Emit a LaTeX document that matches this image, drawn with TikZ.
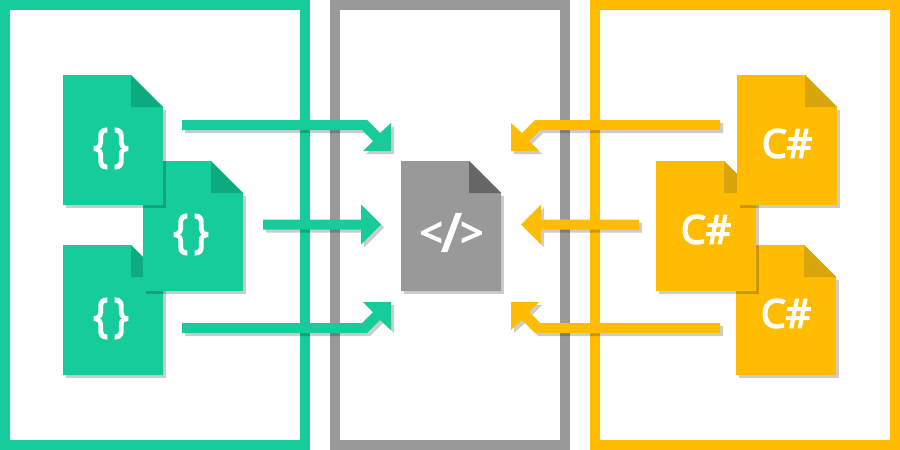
\documentclass[tikz,border=0pt]{standalone}
\usepackage{fontspec}
\setmainfont{Open Sans}[FakeBold=4]
\definecolor{greenC}{HTML}{16CC9B}
\definecolor{greenD}{HTML}{0FAB80}
\definecolor{grayC}{HTML}{999999}
\definecolor{grayD}{HTML}{666666}
\definecolor{yellowC}{HTML}{FFBC00}
\definecolor{yellowD}{HTML}{D8A50D}
\newcommand\bracetext{\fontsize{34.5pt}{34.5pt}\selectfont\scalebox{.85}[1]{\{}\hspace{4.5pt}\scalebox{.85}[1]{\}}}
\newcommand\codetext{\fontsize{30pt}{30pt}\selectfont\raisebox{3.2pt}{<}\hspace{-0.5pt}{\fontsize{39pt}{39pt}\selectfont/}\hspace{-0.5pt}\raisebox{3.2pt}{>}}
\newcommand\sharptext{\fontsize{29.5pt}{29.5pt}\selectfont C\#}
\tikzset{
  frame/.style={line width=7.5pt},
  dropshadow/.style={fill=black,fill opacity=0.2},
  filetext/.style={text=white,inner sep=0pt},
}
% name, left x, top y, body colour, fold colour, text, text dx, text dy
\newcommand\filedoc[8]{%
  \fill[dropshadow] (#2+3,#3+32+3) -- (#2+100+3,#3+32+3) -- (#2+100+3,#3+130+3) -- (#2+3,#3+130+3) -- cycle;
  \fill[#4] (#2,#3) -- (#2+68,#3) -- (#2+100,#3+32) -- (#2+100,#3+130) -- (#2,#3+130) -- cycle;
  \fill[#5] (#2+68,#3) -- (#2+100,#3+32) -- (#2+68,#3+32) -- cycle;
  \node[filetext] (#1) at (#2+50+#7,#3+65+#8) {#6};
}
\newcommand\diagshape{(-209,-31) -- (-24,-31) -- (-11,-18) -- (0,-28) -- (0,0) -- (-28,0) -- (-18,-10) -- (-29,-21) -- (-209,-21) -- cycle}
\newcommand\straightshape[1]{(-#1,-5) -- (-20,-5) -- (-20,-20) -- (0,0) -- (-20,20) -- (-20,5) -- (-#1,5) -- cycle}
% tip coordinate, colour, x scale, y scale
\newcommand\diagarrow[4]{%
  \begin{scope}[shift={(#1)},shift={(3,3)},xscale=#3,yscale=#4]\fill[dropshadow] \diagshape;\end{scope}
  \begin{scope}[shift={(#1)},xscale=#3,yscale=#4]\fill[#2] \diagshape;\end{scope}
}
\newcommand\straightarrow[4]{%
  \begin{scope}[shift={(#1)},shift={(3,3)},xscale=#3]\fill[dropshadow] \straightshape{#4};\end{scope}
  \begin{scope}[shift={(#1)},xscale=#3]\fill[#2] \straightshape{#4};\end{scope}
}
\begin{document}
\begin{tikzpicture}[x=0.75pt,y=-0.75pt]
\useasboundingbox (0,0) rectangle (900,450);
\draw[frame,greenC] (5,5) rectangle (305,445);
\draw[frame,grayC] (335,5) rectangle (565,445);
\draw[frame,yellowC] (595,5) rectangle (895,445);

\filedoc{fileLc}{63}{245}{greenC}{greenD}{\bracetext}{-2}{8.5}
\filedoc{fileLb}{143}{161}{greenC}{greenD}{\bracetext}{-2}{8.5}
\filedoc{fileLa}{63}{75}{greenC}{greenD}{\bracetext}{-2}{8.5}
\filedoc{fileM}{401}{161}{grayC}{grayD}{\codetext}{0.5}{6.5}
\filedoc{fileRc}{736}{245}{yellowC}{yellowD}{\sharptext}{0}{3.5}
\filedoc{fileRb}{656}{161}{yellowC}{yellowD}{\sharptext}{0}{3.5}
\filedoc{fileRa}{737}{75}{yellowC}{yellowD}{\sharptext}{0}{3.5}

\coordinate (tipLa) at (391,151);
\coordinate (tipLb) at (381,224.5);
\coordinate (tipLc) at (391,302);
\coordinate (tipRa) at (511,151);
\coordinate (tipRb) at (521,224.5);
\coordinate (tipRc) at (511,302);
\diagarrow{tipLa}{greenC}{1}{1}
\straightarrow{tipLb}{greenC}{1}{118}
\diagarrow{tipLc}{greenC}{1}{-1}
\diagarrow{tipRa}{yellowC}{-1}{1}
\straightarrow{tipRb}{yellowC}{-1}{118}
\diagarrow{tipRc}{yellowC}{-1}{-1}
\end{tikzpicture}
\end{document}
